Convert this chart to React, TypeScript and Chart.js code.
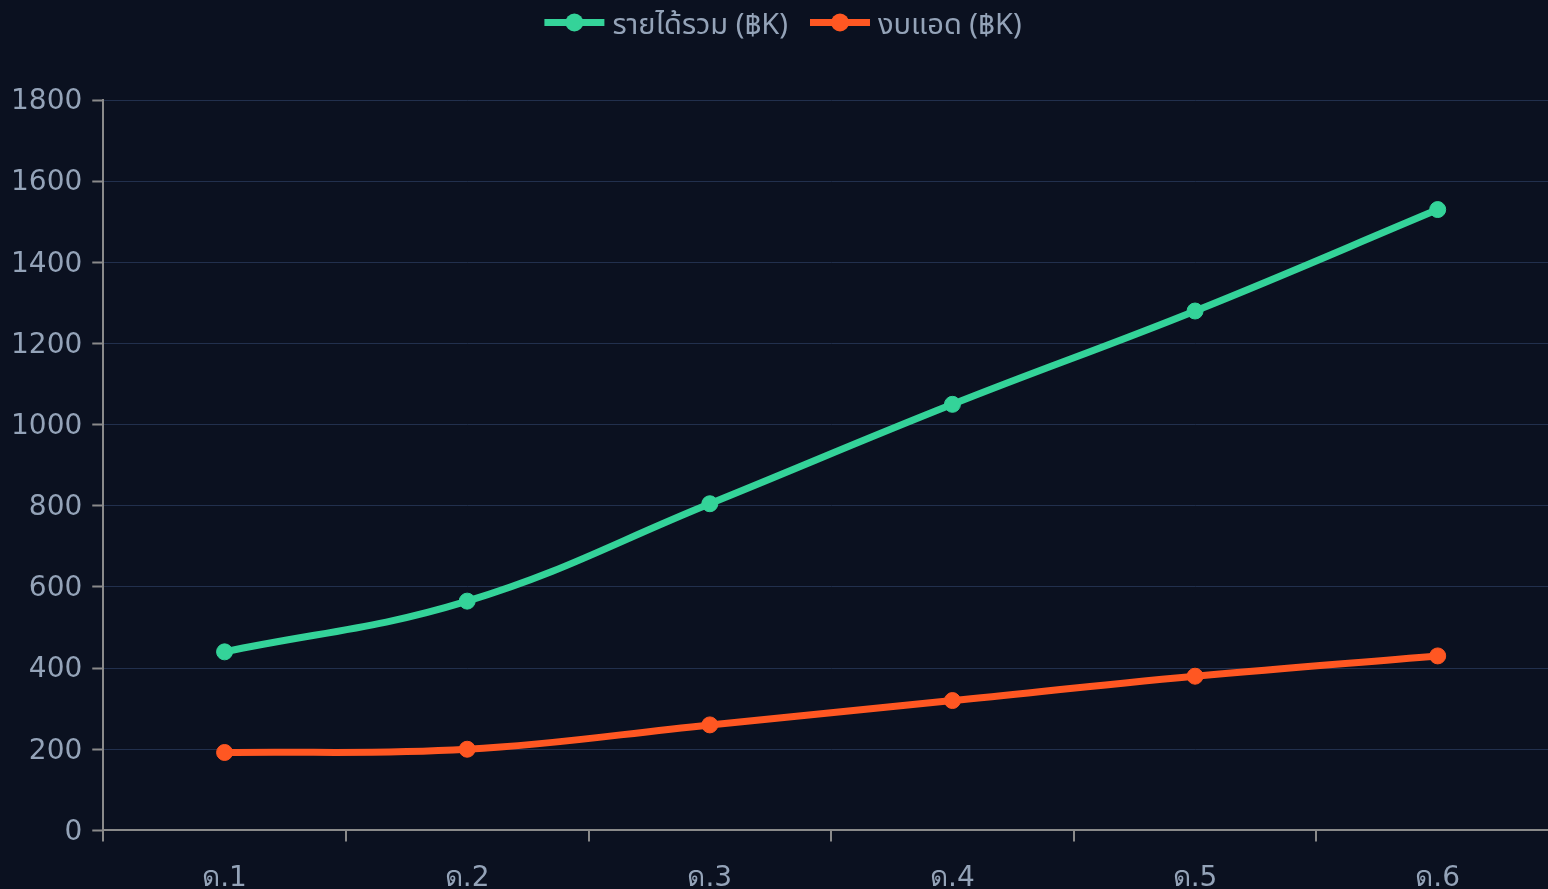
import React, { useEffect, useRef } from "react";
import { Chart, registerables } from "chart.js";

Chart.register(...registerables);

// ---- data ----
const months = ["ด.1", "ด.2", "ด.3", "ด.4", "ด.5", "ด.6"];
const revenue = [440, 565, 805, 1050, 1280, 1530];
const adSpend = [192, 200, 260, 320, 380, 430];
const seriesLabels = ["รายได้รวม (฿K)", "งบแอด (฿K)"];
const seriesColors = ["#34d399", "#ff5722"];
const yMin = 0;
const yMax = 1800;
const yStep = 200;

// ---- styles ----
const BG = "#0b1120";
const TICK = "#94a3b8";
const GRID = "#22304d";
const AXIS = "#8a8a8a";
const CANVAS_W = 1560;
const CANVAS_H = 909;
const LEGEND_SHIFT = -5;

const legendPlugin = {
  id: "lineDotLegend",
  afterDraw(chart: any) {
    const ctx = chart.ctx as CanvasRenderingContext2D;
    ctx.save();
    ctx.font = "29px 'Noto Sans Thai', 'Noto Sans', sans-serif";
    const lineLen = 60;
    const gapText = 8;
    const gapItem = 22;
    const items = chart.data.datasets.map((ds: any) => ({
      text: ds.label as string,
      color: ds.borderColor as string,
      w: ctx.measureText(ds.label).width,
    }));
    const total =
      items.reduce((s: number, it: any) => s + lineLen + gapText + it.w, 0) +
      gapItem * (items.length - 1);
    let x = (chart.width - total) / 2 + LEGEND_SHIFT;
    const yIcon = 14.5;
    const yBase = 25.5;
    items.forEach((it: any) => {
      ctx.strokeStyle = it.color;
      ctx.lineWidth = 7;
      ctx.beginPath();
      ctx.moveTo(x, yIcon);
      ctx.lineTo(x + lineLen, yIcon);
      ctx.stroke();
      ctx.fillStyle = it.color;
      ctx.beginPath();
      ctx.arc(x + lineLen / 2, yIcon, 9, 0, Math.PI * 2);
      ctx.fill();
      x += lineLen + gapText;
      ctx.fillStyle = TICK;
      ctx.textBaseline = "alphabetic";
      ctx.textAlign = "left";
      ctx.fillText(it.text, x, yBase);
      x += it.w + gapItem;
    });
    ctx.restore();
  },
};

export default function App() {
  const ref = useRef<HTMLCanvasElement | null>(null);

  useEffect(() => {
    document.documentElement.style.overflow = "hidden";
    document.documentElement.style.background = BG;
    document.body.style.background = BG;
    const canvas = ref.current;
    if (!canvas) return;
    const tickFont = { family: "'DejaVu Sans', sans-serif", size: 28 };
    const lineStyle = (i: number) => ({
      borderColor: seriesColors[i],
      backgroundColor: seriesColors[i],
      pointBackgroundColor: seriesColors[i],
      pointBorderColor: seriesColors[i],
      borderWidth: 7,
      pointRadius: 8,
      pointBorderWidth: 1,
      tension: 0.4,
      fill: false,
    });
    const chart = new Chart(canvas, {
      type: "line",
      data: {
        labels: months,
        datasets: [
          { label: seriesLabels[0], data: revenue, ...lineStyle(0) },
          { label: seriesLabels[1], data: adSpend, ...lineStyle(1) },
        ],
      },
      options: {
        responsive: false,
        animation: false,
        layout: { padding: { left: -7, top: 92, right: 0, bottom: 0 } },
        plugins: {
          legend: { display: false },
          tooltip: { enabled: false },
        },
        scales: {
          x: {
            offset: true,
            grid: {
              offset: true,
              drawOnChartArea: false,
              color: AXIS,
              tickColor: AXIS,
              tickLength: 11,
              lineWidth: 2,
            },
            border: { color: AXIS, width: 2 },
            ticks: { color: TICK, font: tickFont, padding: 21 },
          },
          y: {
            min: yMin,
            max: yMax,
            grid: {
              color: GRID,
              tickColor: AXIS,
              tickLength: 11,
              lineWidth: 1,
              tickWidth: 2,
            },
            border: { color: AXIS, width: 2 },
            ticks: {
              color: TICK,
              font: tickFont,
              padding: 10,
              stepSize: yStep,
              labelOffset: 2,
              callback: (v: any) => String(v),
            },
          },
        },
      },
      plugins: [legendPlugin],
    });
    return () => chart.destroy();
  }, []);

  return (
    <div style={{ position: "fixed", left: 8, top: 8, width: CANVAS_W, height: CANVAS_H }}>
      <canvas ref={ref} width={CANVAS_W} height={CANVAS_H} style={{ display: "block" }} />
    </div>
  );
}
